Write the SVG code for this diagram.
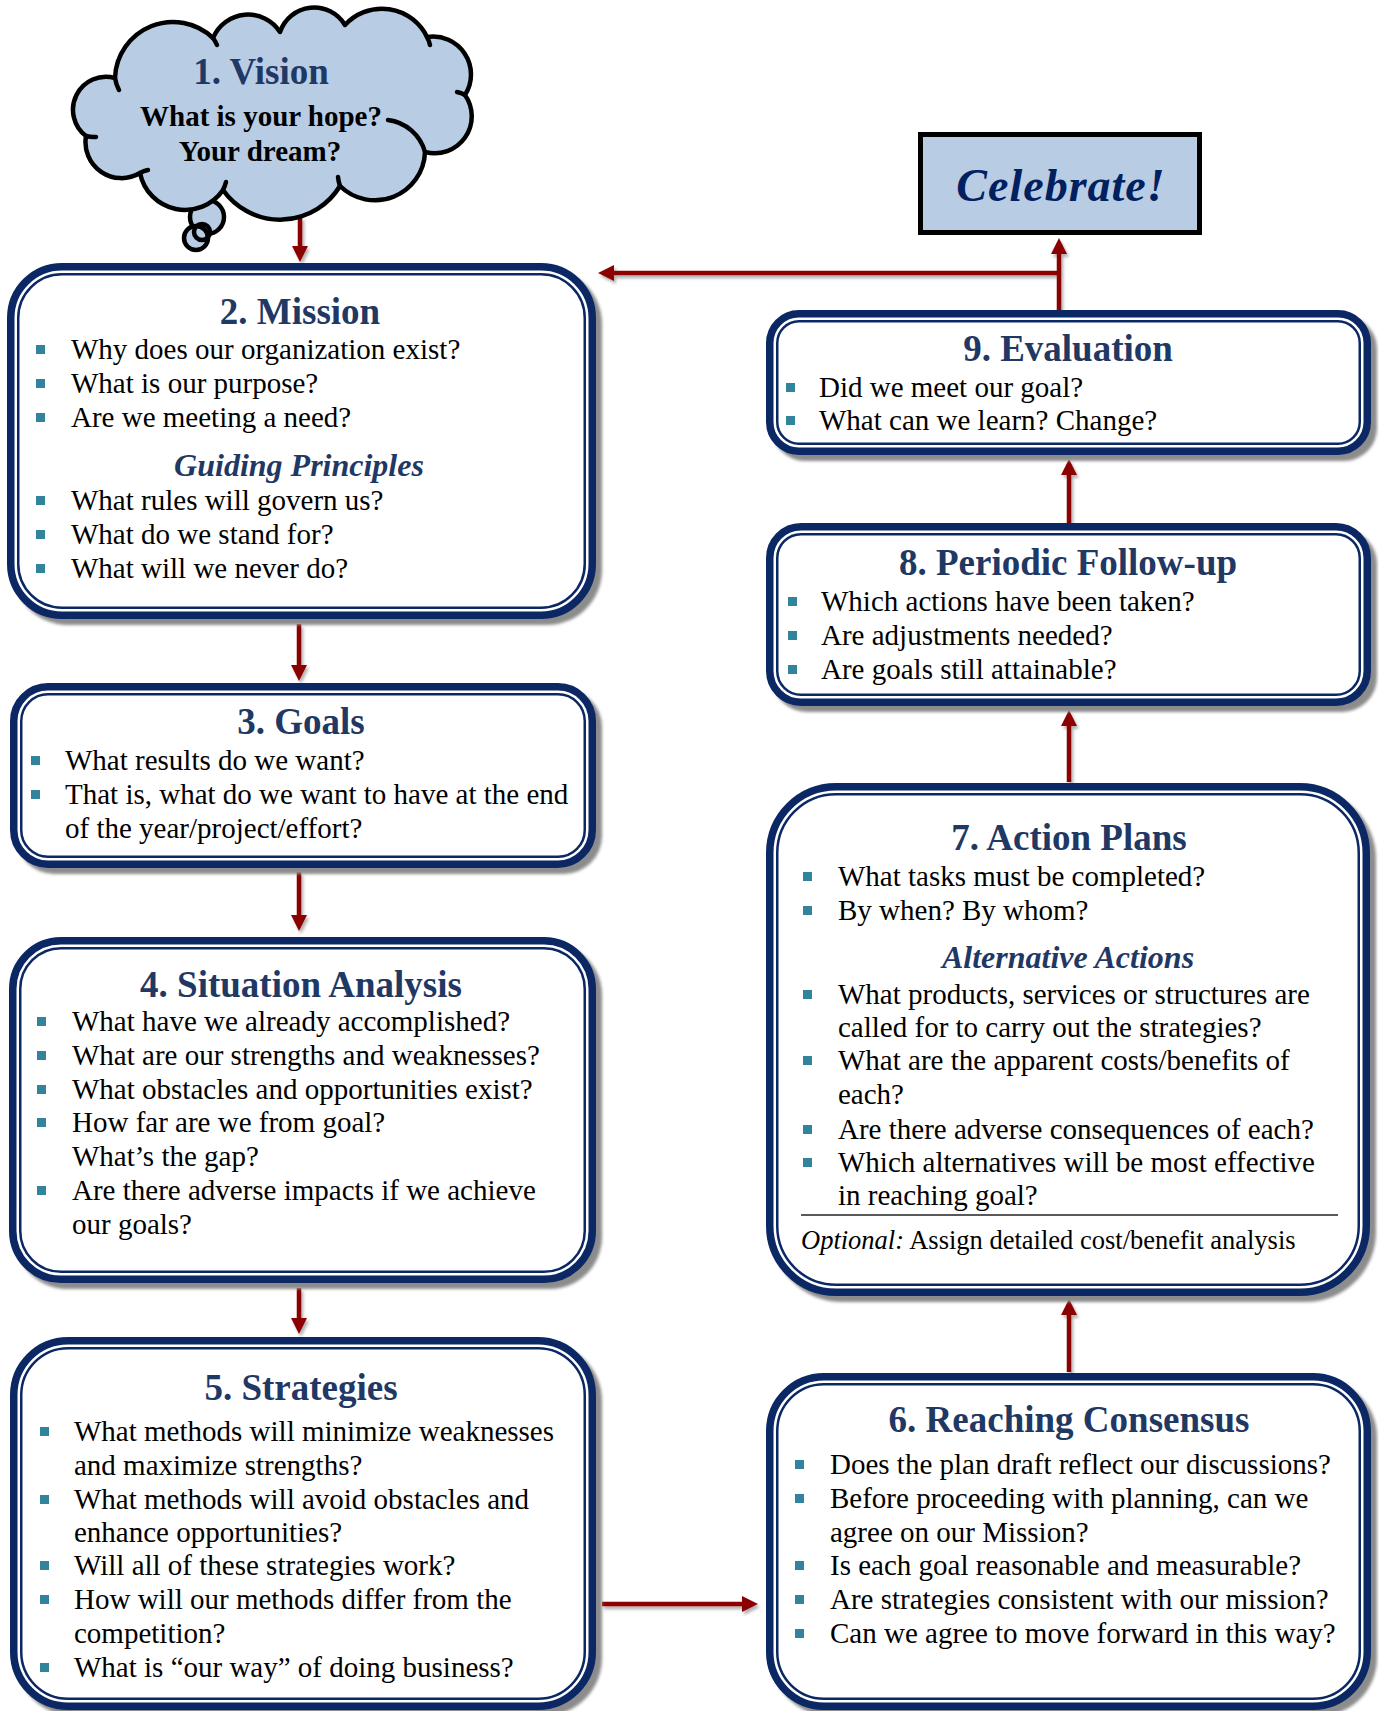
<svg xmlns="http://www.w3.org/2000/svg" width="1379" height="1711" viewBox="0 0 1379 1711">
<defs>
<style>
text{font-family:"Liberation Serif","Times New Roman",serif}
.title{font-size:37px;font-weight:bold;fill:#1f3864;text-anchor:middle}
.sub{font-size:32px;font-weight:bold;font-style:italic;fill:#1f3864;text-anchor:middle}
.b{font-size:29px;fill:#000}
.bul{fill:#31849b}
.outer{fill:#fff;stroke:#0b2864;stroke-width:7.5}
.inner{fill:none;stroke:#0b2864;stroke-width:2.5}
.shadow{fill:#8c8c8c;filter:url(#blur)}
.conn{stroke:#8b0000;stroke-width:4.5;fill:none;marker-end:url(#ah)}
.cloud{fill:#b8cce4;stroke:#000;stroke-width:4.5;stroke-linejoin:round}
.cl{fill:none;stroke:#000;stroke-width:4.5;stroke-linecap:round}
</style>
<filter id="blur" x="-5%" y="-5%" width="110%" height="110%"><feGaussianBlur stdDeviation="1.5"/></filter>
<filter id="csh" x="-5%" y="-20%" width="110%" height="140%"><feDropShadow dx="2" dy="3" stdDeviation="1.5" flood-color="#000" flood-opacity="0.3"/></filter>
<marker id="ah" viewBox="0 0 16 16" refX="4" refY="8" markerWidth="16" markerHeight="16" markerUnits="userSpaceOnUse" orient="auto">
<path d="M0,0 L16,8 L0,16 z" fill="#8b0000"/>
</marker>
</defs>
<rect width="1379" height="1711" fill="#fff"/>

<g id="connectors" filter="url(#csh)">
<path class="conn" d="M300,217 L300,250"/>
<path class="conn" d="M299,624 L299,669"/>
<path class="conn" d="M299,872 L299,919"/>
<path class="conn" d="M299,1288 L299,1322"/>
<path class="conn" d="M602,1604 L746,1604"/>
<path class="conn" d="M1069,1372 L1069,1311"/>
<path class="conn" d="M1069,782 L1069,722"/>
<path class="conn" d="M1069,523 L1069,471"/>
<path class="conn" d="M1059,310 L1059,250"/>
<path class="conn" d="M1061,273 L610,273"/>
</g>

<g id="vision">
<circle cx="207" cy="217" r="17" class="cloud"/>
<circle cx="196" cy="238" r="12" class="cloud"/>
<circle cx="202" cy="232" r="8" class="cl" stroke-width="3.5"/>
<path class="cloud" d="M115,78 A58,58 0 0 1 213,38 A38,38 0 0 1 280,32 A36,36 0 0 1 345,25 A50,50 0 0 1 427,37 A38,38 0 0 1 465,95 A37,37 0 0 1 425,152 A50,50 0 0 1 340,186 A70,70 0 0 1 223,190 A46,46 0 0 1 140,173 A36,36 0 0 1 86,136 A33,33 0 0 1 115,78 Z"/>
<path class="cl" d="M388,120 A44,44 0 0 1 425,152"/>
<path class="cl" d="M115,78 A40,40 0 0 0 119,90"/>
<path class="cl" d="M213,38 A30,30 0 0 1 217,45"/>
<path class="cl" d="M427,37 A30,30 0 0 1 430,45"/>
<path class="cl" d="M465,95 A30,30 0 0 0 457,92"/>
<path class="cl" d="M340,186 A40,40 0 0 1 338,177"/>
<path class="cl" d="M223,190 A40,40 0 0 0 226,182"/>
<path class="cl" d="M140,173 A30,30 0 0 1 148,170"/>
<path class="cl" d="M86,136 A30,30 0 0 0 96,137"/>
<text x="261" y="84" class="title">1. Vision</text>
<text x="261" y="126" font-size="29" font-weight="bold" text-anchor="middle">What is your hope?</text>
<text x="260" y="161" font-size="29" font-weight="bold" text-anchor="middle">Your dream?</text>
</g>

<g id="celebrate">
<rect x="920.5" y="134.5" width="279" height="98" fill="#b8cce4" stroke="#000" stroke-width="5"/>
<text x="1061" y="201" font-size="46" font-weight="bold" font-style="italic" fill="#002060" text-anchor="middle" letter-spacing="1">Celebrate!</text>
</g>

<g id="mission">
<rect class="shadow" x="13" y="269" width="589" height="356" rx="55"/>
<rect class="outer" x="10.75" y="266.75" width="581.5" height="348.5" rx="51.25"/>
<rect class="inner" x="18.25" y="274.25" width="566.5" height="333.5" rx="43.75"/>
<text x="300" y="324" class="title">2. Mission</text>
<rect class="bul" x="36" y="345" width="9" height="9"/>
<text x="71" y="359" class="b">Why does our organization exist?</text>
<rect class="bul" x="36" y="379" width="9" height="9"/>
<text x="71" y="393" class="b">What is our purpose?</text>
<rect class="bul" x="36" y="413" width="9" height="9"/>
<text x="71" y="427" class="b">Are we meeting a need?</text>
<text x="299" y="476" class="sub">Guiding Principles</text>
<rect class="bul" x="36" y="496" width="9" height="9"/>
<text x="71" y="510" class="b">What rules will govern us?</text>
<rect class="bul" x="36" y="530" width="9" height="9"/>
<text x="71" y="544" class="b">What do we stand for?</text>
<rect class="bul" x="36" y="564" width="9" height="9"/>
<text x="71" y="578" class="b">What will we never do?</text>
</g>

<g id="goals">
<rect class="shadow" x="16" y="689" width="586" height="185" rx="38"/>
<rect class="outer" x="13.75" y="686.75" width="578.5" height="177.5" rx="34.25"/>
<rect class="inner" x="21.25" y="694.25" width="563.5" height="162.5" rx="26.75"/>
<text x="301" y="734" class="title">3. Goals</text>
<rect class="bul" x="31" y="756" width="9" height="9"/>
<text x="65" y="770" class="b">What results do we want?</text>
<rect class="bul" x="31" y="790" width="9" height="9"/>
<text x="65" y="804" class="b">That is, what do we want to have at the end</text>
<text x="65" y="838" class="b">of the year/project/effort?</text>
</g>

<g id="situation">
<rect class="shadow" x="15" y="943" width="587" height="346" rx="52"/>
<rect class="outer" x="12.75" y="940.75" width="579.5" height="338.5" rx="48.25"/>
<rect class="inner" x="20.25" y="948.25" width="564.5" height="323.5" rx="40.75"/>
<text x="301" y="997" class="title">4. Situation Analysis</text>
<rect class="bul" x="37" y="1017" width="9" height="9"/>
<text x="72" y="1031" class="b">What have we already accomplished?</text>
<rect class="bul" x="37" y="1051" width="9" height="9"/>
<text x="72" y="1065" class="b">What are our strengths and weaknesses?</text>
<rect class="bul" x="37" y="1085" width="9" height="9"/>
<text x="72" y="1099" class="b">What obstacles and opportunities exist?</text>
<rect class="bul" x="37" y="1118" width="9" height="9"/>
<text x="72" y="1132" class="b">How far are we from goal?</text>
<text x="72" y="1166" class="b">What’s the gap?</text>
<rect class="bul" x="37" y="1186" width="9" height="9"/>
<text x="72" y="1200" class="b">Are there adverse impacts if we achieve</text>
<text x="72" y="1234" class="b">our goals?</text>
</g>

<g id="strategies">
<rect class="shadow" x="16" y="1343" width="586" height="373" rx="58"/>
<rect class="outer" x="13.75" y="1340.75" width="578.5" height="365.5" rx="54.25"/>
<rect class="inner" x="21.25" y="1348.25" width="563.5" height="350.5" rx="46.75"/>
<text x="301" y="1400" class="title">5. Strategies</text>
<rect class="bul" x="40" y="1427" width="9" height="9"/>
<text x="74" y="1441" class="b">What methods will minimize weaknesses</text>
<text x="74" y="1475" class="b">and maximize strengths?</text>
<rect class="bul" x="40" y="1495" width="9" height="9"/>
<text x="74" y="1509" class="b">What methods will avoid obstacles and</text>
<text x="74" y="1542" class="b">enhance opportunities?</text>
<rect class="bul" x="40" y="1561" width="9" height="9"/>
<text x="74" y="1575" class="b">Will all of these strategies work?</text>
<rect class="bul" x="40" y="1595" width="9" height="9"/>
<text x="74" y="1609" class="b">How will our methods differ from the</text>
<text x="74" y="1643" class="b">competition?</text>
<rect class="bul" x="40" y="1663" width="9" height="9"/>
<text x="74" y="1677" class="b">What is “our way” of doing business?</text>
</g>

<g id="evaluation">
<rect class="shadow" x="772" y="316" width="605" height="145" rx="33"/>
<rect class="outer" x="769.75" y="313.75" width="597.5" height="137.5" rx="29.25"/>
<rect class="inner" x="777.25" y="321.25" width="582.5" height="122.5" rx="21.75"/>
<text x="1068" y="361" class="title">9. Evaluation</text>
<rect class="bul" x="786" y="383" width="9" height="9"/>
<text x="819" y="397" class="b">Did we meet our goal?</text>
<rect class="bul" x="786" y="416" width="9" height="9"/>
<text x="819" y="430" class="b">What can we learn? Change?</text>
</g>

<g id="followup">
<rect class="shadow" x="772" y="529" width="605" height="183" rx="35"/>
<rect class="outer" x="769.75" y="526.75" width="597.5" height="175.5" rx="31.25"/>
<rect class="inner" x="777.25" y="534.25" width="582.5" height="160.5" rx="23.75"/>
<text x="1068" y="575" class="title">8. Periodic Follow-up</text>
<rect class="bul" x="788" y="597" width="9" height="9"/>
<text x="821" y="611" class="b">Which actions have been taken?</text>
<rect class="bul" x="788" y="631" width="9" height="9"/>
<text x="821" y="645" class="b">Are adjustments needed?</text>
<rect class="bul" x="788" y="665" width="9" height="9"/>
<text x="821" y="679" class="b">Are goals still attainable?</text>
</g>

<g id="actionplans">
<rect class="shadow" x="772" y="789" width="604" height="513" rx="70"/>
<rect class="outer" x="769.75" y="786.75" width="596.5" height="505.5" rx="66.25"/>
<rect class="inner" x="777.25" y="794.25" width="581.5" height="490.5" rx="58.75"/>
<text x="1069" y="850" class="title">7. Action Plans</text>
<rect class="bul" x="803" y="872" width="9" height="9"/>
<text x="838" y="886" class="b">What tasks must be completed?</text>
<rect class="bul" x="803" y="906" width="9" height="9"/>
<text x="838" y="920" class="b">By when? By whom?</text>
<text x="1068" y="968" class="sub">Alternative Actions</text>
<rect class="bul" x="803" y="990" width="9" height="9"/>
<text x="838" y="1004" class="b">What products, services or structures are</text>
<text x="838" y="1037" class="b">called for to carry out the strategies?</text>
<rect class="bul" x="803" y="1056" width="9" height="9"/>
<text x="838" y="1070" class="b">What are the apparent costs/benefits of</text>
<text x="838" y="1104" class="b">each?</text>
<rect class="bul" x="803" y="1125" width="9" height="9"/>
<text x="838" y="1139" class="b">Are there adverse consequences of each?</text>
<rect class="bul" x="803" y="1158" width="9" height="9"/>
<text x="838" y="1172" class="b">Which alternatives will be most effective</text>
<text x="838" y="1205" class="b">in reaching goal?</text>
<line x1="801" y1="1215" x2="1338" y2="1215" stroke="#595959" stroke-width="2"/>
<text x="801" y="1249" font-size="26.5"><tspan font-style="italic">Optional:</tspan> Assign detailed cost/benefit analysis</text>
</g>

<g id="consensus">
<rect class="shadow" x="772" y="1379" width="605" height="337" rx="58"/>
<rect class="outer" x="769.75" y="1376.75" width="597.5" height="329.5" rx="54.25"/>
<rect class="inner" x="777.25" y="1384.25" width="582.5" height="314.5" rx="46.75"/>
<text x="1069" y="1432" class="title">6. Reaching Consensus</text>
<rect class="bul" x="795" y="1460" width="9" height="9"/>
<text x="830" y="1474" class="b">Does the plan draft reflect our discussions?</text>
<rect class="bul" x="795" y="1494" width="9" height="9"/>
<text x="830" y="1508" class="b">Before proceeding with planning, can we</text>
<text x="830" y="1542" class="b">agree on our Mission?</text>
<rect class="bul" x="795" y="1561" width="9" height="9"/>
<text x="830" y="1575" class="b">Is each goal reasonable and measurable?</text>
<rect class="bul" x="795" y="1595" width="9" height="9"/>
<text x="830" y="1609" class="b">Are strategies consistent with our mission?</text>
<rect class="bul" x="795" y="1629" width="9" height="9"/>
<text x="830" y="1643" class="b">Can we agree to move forward in this way?</text>
</g>
</svg>
